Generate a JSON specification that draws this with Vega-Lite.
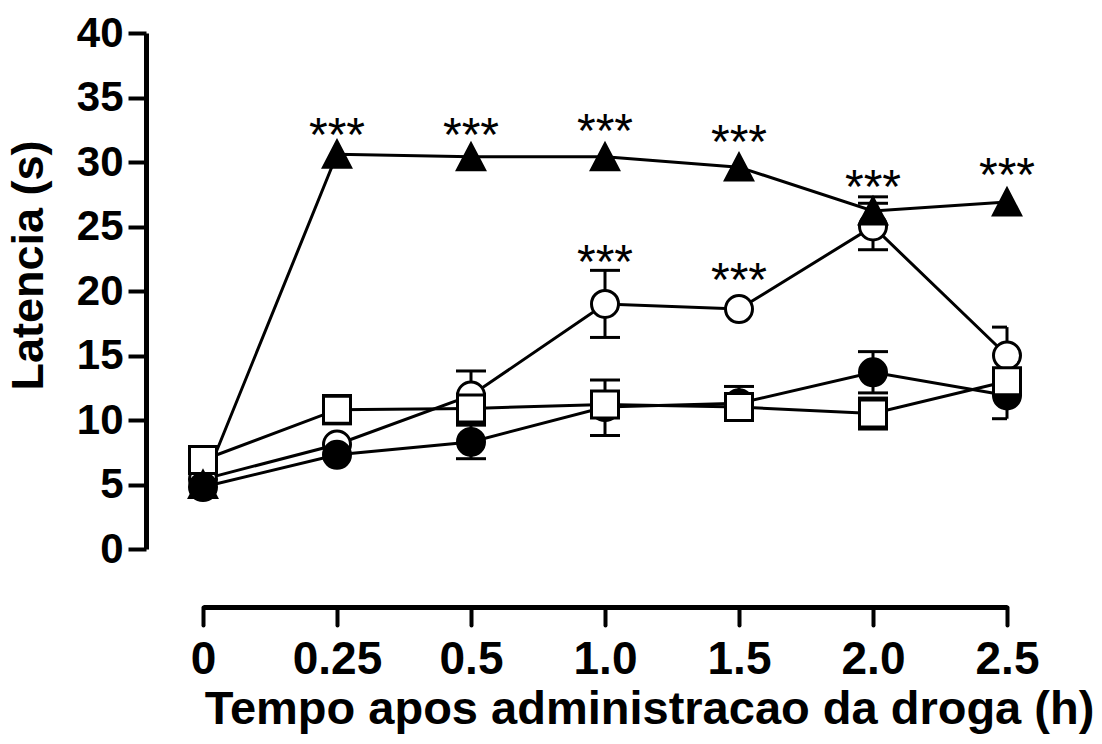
{
  "$schema": "https://vega.github.io/schema/vega-lite/v6.json",
  "width": 861,
  "height": 516,
  "autosize": {"type": "none"},
  "padding": {"left": 146, "top": 33, "right": 95, "bottom": 195},
  "background": "white",
  "config": {
    "view": {"stroke": null},
    "font": "Liberation Sans",
    "axis": {
      "grid": false,
      "domainColor": "black",
      "domainWidth": 5,
      "tickColor": "black",
      "tickWidth": 4,
      "labelColor": "black",
      "labelFont": "Liberation Sans",
      "labelFontWeight": "bold",
      "titleColor": "black",
      "titleFont": "Liberation Sans",
      "titleFontWeight": "bold"
    }
  },
  "data": {
    "values": [
      {"grupo": "B", "t": 0, "media": 5.4, "lo": null, "hi": null},
      {"grupo": "B", "t": 0.25, "media": 8.1, "lo": null, "hi": null},
      {"grupo": "B", "t": 0.5, "media": 11.9, "lo": 10.0, "hi": 13.8},
      {"grupo": "B", "t": 1, "media": 19.0, "lo": 16.4, "hi": 21.6},
      {"grupo": "B", "t": 1.5, "media": 18.6, "lo": null, "hi": null},
      {"grupo": "B", "t": 2, "media": 25.0, "lo": 23.2, "hi": 26.8},
      {"grupo": "B", "t": 2.5, "media": 15.0, "lo": 12.8, "hi": 17.2},
      {"grupo": "A", "t": 0, "media": 4.8, "lo": null, "hi": null},
      {"grupo": "A", "t": 0.25, "media": 7.3, "lo": null, "hi": null},
      {"grupo": "A", "t": 0.5, "media": 8.3, "lo": 7.0, "hi": 9.6},
      {"grupo": "A", "t": 1, "media": 11.0, "lo": 8.8, "hi": 13.1},
      {"grupo": "A", "t": 1.5, "media": 11.3, "lo": 10.0, "hi": 12.6},
      {"grupo": "A", "t": 2, "media": 13.7, "lo": 12.1, "hi": 15.3},
      {"grupo": "A", "t": 2.5, "media": 11.9, "lo": 10.1, "hi": 13.7},
      {"grupo": "C", "t": 0, "media": 6.9, "lo": null, "hi": null},
      {"grupo": "C", "t": 0.25, "media": 10.8, "lo": 9.7, "hi": 11.9},
      {"grupo": "C", "t": 0.5, "media": 10.9, "lo": 9.8, "hi": 12.0},
      {"grupo": "C", "t": 1, "media": 11.2, "lo": 10.2, "hi": 12.2},
      {"grupo": "C", "t": 1.5, "media": 11.0, "lo": 10.2, "hi": 11.8},
      {"grupo": "C", "t": 2, "media": 10.5, "lo": 9.3, "hi": 11.7},
      {"grupo": "C", "t": 2.5, "media": 13.0, "lo": 12.2, "hi": 13.8},
      {"grupo": "D", "t": 0, "media": 5.0, "lo": null, "hi": null},
      {"grupo": "D", "t": 0.25, "media": 30.6, "lo": null, "hi": null},
      {"grupo": "D", "t": 0.5, "media": 30.4, "lo": null, "hi": null},
      {"grupo": "D", "t": 1, "media": 30.4, "lo": null, "hi": null},
      {"grupo": "D", "t": 1.5, "media": 29.6, "lo": null, "hi": null},
      {"grupo": "D", "t": 2, "media": 26.2, "lo": 25.1, "hi": 27.3},
      {"grupo": "D", "t": 2.5, "media": 26.9, "lo": null, "hi": null}
    ]
  },
  "encoding": {
    "x": {
      "field": "t",
      "type": "ordinal",
      "scale": {"type": "point", "domain": [0, 0.25, 0.5, 1, 1.5, 2, 2.5], "range": [57, 861], "padding": 0},
      "axis": {
        "title": "Tempo apos administracao da droga (h)",
        "offset": 58,
        "labelAngle": 0,
        "labelFontSize": 46,
        "labelBaseline": "alphabetic",
        "labelPadding": 48,
        "labelExpr": "datum.value === 0 ? '0' : datum.value === 0.25 ? '0.25' : format(datum.value, '.1f')",
        "tickSize": 18,
        "tickCap": "round",
        "titleFontSize": 47,
        "titleX": 503,
        "titleY": 116,
        "titleAlign": "center",
        "titleBaseline": "alphabetic"
      }
    }
  },
  "layer": [
    {
      "mark": {"type": "rule", "stroke": "black", "strokeWidth": 3},
      "encoding": {
        "y": {
          "field": "lo",
          "type": "quantitative",
          "scale": {"domain": [0, 40], "nice": false, "zero": true},
          "axis": {
            "title": "Latencia (s)",
            "values": [0, 2.5, 5, 7.5, 10, 12.5, 15, 17.5, 20, 22.5, 25, 27.5, 30, 32.5, 35, 37.5, 40],
            "labelExpr": "datum.value % 5 === 0 ? datum.label : ''",
            "labelFontSize": 42,
            "labelPadding": 5,
            "labelBaseline": "middle",
            "tickSize": {"condition": {"test": "datum.value % 5 === 0", "value": 18}, "value": 11},
            "titleFontSize": 45,
            "titleAngle": -90,
            "titleX": -104,
            "titleY": 232,
            "titleAlign": "center",
            "titleBaseline": "alphabetic"
          }
        },
        "y2": {"field": "hi"}
      }
    },
    {
      "mark": {"type": "tick", "color": "black", "size": 30, "thickness": 3, "opacity": 1, "clip": true},
      "encoding": {"y": {"field": "lo", "type": "quantitative"}}
    },
    {
      "mark": {"type": "tick", "color": "black", "size": 30, "thickness": 3, "opacity": 1, "clip": true},
      "encoding": {"y": {"field": "hi", "type": "quantitative"}}
    },
    {
      "mark": {"type": "line", "stroke": "black", "strokeWidth": 3},
      "encoding": {
        "y": {"field": "media", "type": "quantitative"},
        "detail": {"field": "grupo", "type": "nominal"}
      }
    },
    {
      "mark": {"type": "point", "filled": true, "stroke": "black", "strokeWidth": 3, "opacity": 1},
      "encoding": {
        "y": {"field": "media", "type": "quantitative"},
        "shape": {
          "field": "grupo",
          "type": "nominal",
          "scale": {"domain": ["A", "B", "C", "D"], "range": ["circle", "circle", "square", "M0,-0.96L-1,0.96L1,0.96Z"]},
          "legend": null
        },
        "fill": {
          "field": "grupo",
          "type": "nominal",
          "scale": {"domain": ["A", "B", "C", "D"], "range": ["black", "white", "white", "black"]},
          "legend": null
        },
        "size": {
          "field": "grupo",
          "type": "nominal",
          "scale": {"domain": ["A", "B", "C", "D"], "range": [729, 729, 700, 676]},
          "legend": null
        }
      }
    },
    {
      "data": {
        "values": [
          {"t": 0.25, "sig": 32.9, "texto": "***"},
          {"t": 0.5, "sig": 32.9, "texto": "***"},
          {"t": 1, "sig": 33.2, "texto": "***"},
          {"t": 1.5, "sig": 32.3, "texto": "***"},
          {"t": 2, "sig": 28.8, "texto": "***"},
          {"t": 2.5, "sig": 29.8, "texto": "***"},
          {"t": 1, "sig": 23.0, "texto": "***"},
          {"t": 1.5, "sig": 21.6, "texto": "***"}
        ]
      },
      "mark": {"type": "text", "font": "Liberation Sans", "fontSize": 48, "fontWeight": "normal", "color": "black", "baseline": "alphabetic", "align": "center", "dy": 26},
      "encoding": {
        "y": {"field": "sig", "type": "quantitative"},
        "text": {"field": "texto"}
      }
    }
  ]
}
